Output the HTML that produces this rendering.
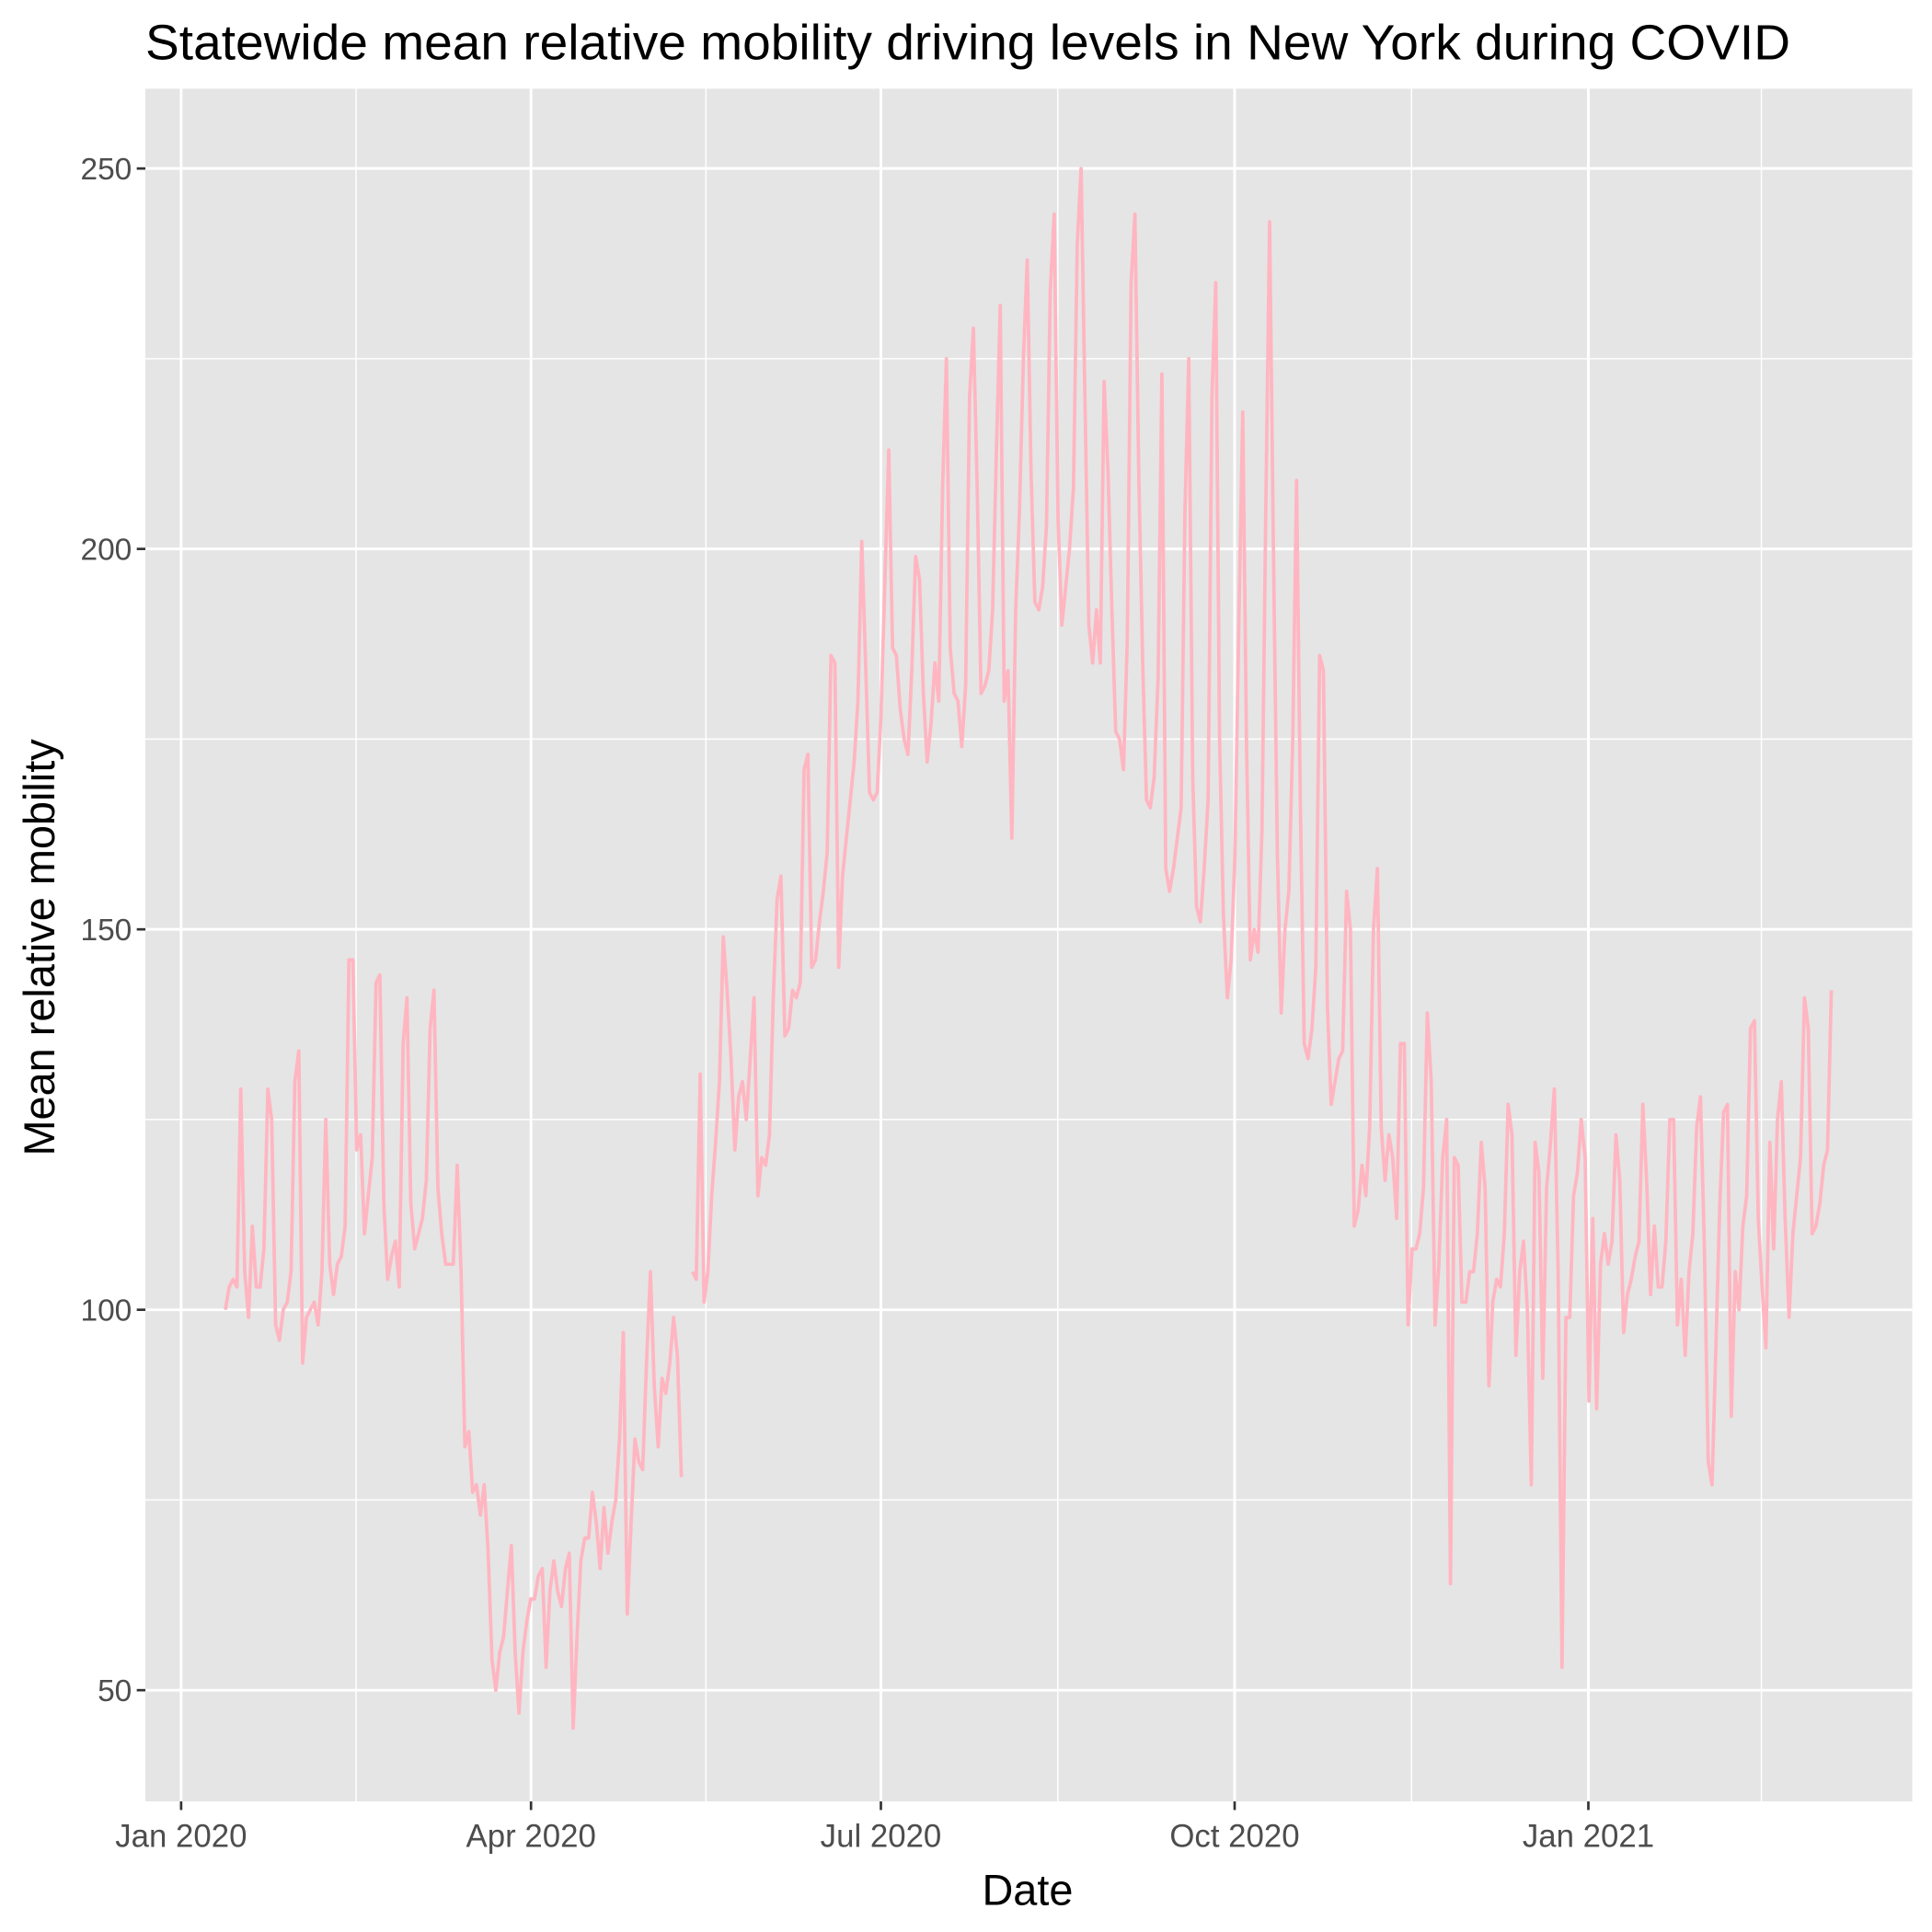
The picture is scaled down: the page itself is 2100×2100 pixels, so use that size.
<!DOCTYPE html>
<html><head><meta charset="utf-8"><style>
html,body{margin:0;padding:0;background:#fff;}
svg{display:block;font-family:"Liberation Sans",Arial,sans-serif;}
</style></head><body>
<svg id="chart" width="2100" height="2100" viewBox="0 0 1568 1568" xmlns="http://www.w3.org/2000/svg">
<text x="118" y="48" font-size="40" textLength="1335" lengthAdjust="spacingAndGlyphs" fill="#000">Statewide mean relative mobility driving levels in New York during COVID</text>
<rect x="118" y="72" width="1434" height="1390" fill="#e5e5e5"/>
<g id="grid"></g>
<g id="series"></g>
<g id="axes"></g>
<text x="834" y="1546" font-size="35" text-anchor="middle" fill="#000">Date</text>
<text transform="translate(44,769) rotate(-90)" font-size="35" text-anchor="middle" fill="#000">Mean relative mobility</text>
</svg>
<script>
const seg1Start = 11.5, seg1End = 130.1;
const seg1Values = [100,103,104,103,129,105,99,111,103,103,108,129,125,98,96,100,101,105,130,134,93,99,100,101,98,105,125,106,102,106,107,111,146,146,121,123,110,115,120,143,144,114,104,107,109,103,135,141,114,108,110,112,117,137,142,116,110,106,106,106,119,105,82,84,76,77,73,77,68,54,50,55,57,63,69,55,47,55,59,62,62,65,66,53,63,67,63,61,66,68,45,57,67,70,70,76,72,66,74,68,72,75,83,97,60,72,83,80,79,93,105,90,82,91,89,93,99,94,78];
const seg2Start = 133.0, seg2End = 429.2;
const seg2Values = [105,104,131,101,105,115,122,130,149,142,133,121,128,130,125,133,141,115,120,119,123,141,154,157,136,137,142,141,143,171,173,145,146,151,155,160,186,185,145,157,162,167,172,180,201,185,168,167,168,178,196,213,187,186,179,175,173,184,199,196,181,172,177,185,180,208,225,187,181,180,174,182,220,229,208,181,182,184,192,213,232,180,184,162,192,205,225,238,210,193,192,195,203,234,244,204,190,195,200,208,240,250,220,190,185,192,185,222,210,192,176,175,171,188,235,244,210,185,167,166,170,183,223,158,155,158,162,166,205,225,170,153,151,158,167,220,235,175,152,141,146,160,190,218,174,146,150,147,163,205,243,200,160,139,150,155,175,209,166,135,133,137,145,186,184,140,127,130,133,134,155,150,111,113,119,115,124,150,158,124,117,123,120,112,135,135,98,108,108,110,116,139,130,98,106,120,125,64,120,119,101,101,105,105,110,122,116,90,101,104,103,110,127,123,94,105,109,100,77,122,118,91,116,122,129,105,53,99,99,115,118,125,120,88,112,87,106,110,106,109,123,117,97,102,104,107,109,127,117,102,111,103,103,109,125,125,98,104,94,105,110,124,128,108,80,77,95,114,126,127,86,105,100,111,115,137,138,112,103,95,122,108,125,130,112,99,110,115,120,141,137,110,111,114,119,121,142];
const yTicks = [50,100,150,200,250];
const yMinor = [75,125,175,225];
const xTickDays = [0,91,182,274,366];
const xTickLabels = ["Jan 2020","Apr 2020","Jul 2020","Oct 2020","Jan 2021"];
const xMinorDays = [45.5,136.5,228,320,411];

const NS="http://www.w3.org/2000/svg";
const px = d => 147 + d*3.1205;
const py = v => 1063 - (v-100)*6.175;
function mk(tag, attrs, parent){const e=document.createElementNS(NS,tag);for(const k in attrs)e.setAttribute(k,attrs[k]);parent.appendChild(e);return e;}
const grid=document.getElementById('grid'), axes=document.getElementById('axes'), series=document.getElementById('series');
yMinor.forEach(v=>{const l=mk('line',{x1:118,x2:1552,y1:py(v),y2:py(v),stroke:'#fff','stroke-width':1.1},grid);

});
xMinorDays.forEach(d=>{const l=mk('line',{x1:px(d),x2:px(d),y1:72,y2:1462,stroke:'#fff','stroke-width':1.1},grid);

});
yTicks.forEach(v=>{const y=py(v);
const l=mk('line',{x1:118,x2:1552,y1:y,y2:y,stroke:'#fff','stroke-width':2.2},grid);


const t=mk('line',{x1:111,x2:118,y1:y,y2:y,stroke:'#333','stroke-width':2},axes);


const tx=mk('text',{x:107,y:y+9,'font-size':25,'text-anchor':'end',fill:'#4d4d4d'},axes);tx.textContent=v;

});
xTickDays.forEach((d,i)=>{const x=px(d);
const l=mk('line',{x1:x,x2:x,y1:72,y2:1462,stroke:'#fff','stroke-width':2.2},grid);


const t=mk('line',{x1:x,x2:x,y1:1462,y2:1469,stroke:'#333','stroke-width':2},axes);


const tx=mk('text',{x:x,y:1499,'font-size':26,'text-anchor':'middle',fill:'#4d4d4d'},axes);tx.textContent=xTickLabels[i];

});
function drawSeg(vals,s,e){const step=(e-s)/(vals.length-1);
const pts=vals.map((v,i)=>px(s+i*step).toFixed(1)+','+py(v).toFixed(1)).join(' ');
const p=mk('polyline',{points:pts,fill:'none',stroke:'#ffb6c1','stroke-width':2.8,'stroke-linejoin':'round'},series);

}
drawSeg(seg1Values,seg1Start,seg1End);
drawSeg(seg2Values,seg2Start,seg2End);
</script>
</body></html>
